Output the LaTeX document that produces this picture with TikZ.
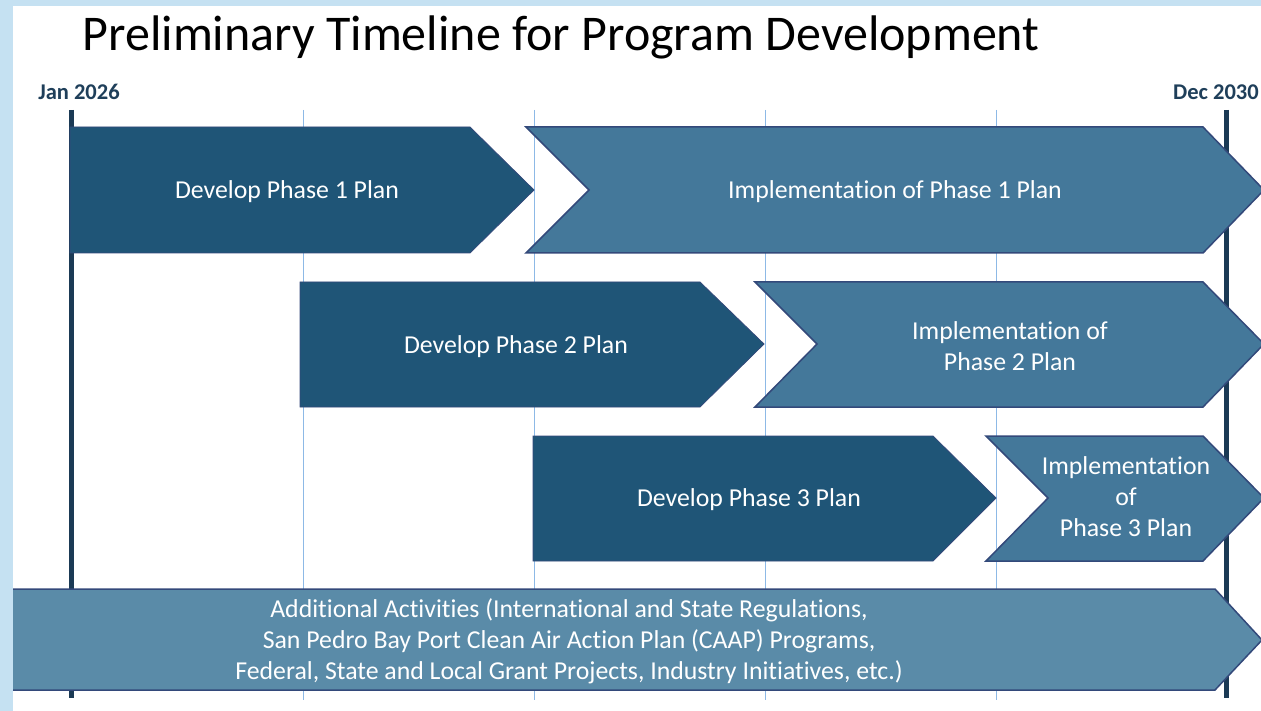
\documentclass[tikz,border=0pt]{standalone}
\usepackage{fontspec}
\setmainfont[Ligatures=NoCommon]{Carlito}
\definecolor{bgblue}{HTML}{C5E1F2}
\definecolor{devcol}{HTML}{1F5577}
\definecolor{impcol}{HTML}{44789A}
\definecolor{addcol}{HTML}{5A8BA8}
\definecolor{edgecol}{HTML}{33497A}
\definecolor{navy}{HTML}{1B3A55}
\definecolor{gridcol}{HTML}{8DB9E6}
\definecolor{lblcol}{HTML}{1F3F5A}
\tikzset{
  devshape/.style={fill=devcol, draw=edgecol, line width=0.8pt, line join=miter},
  impshape/.style={fill=impcol, draw=edgecol, line width=1.5pt, line join=miter},
  addshape/.style={fill=addcol, draw=edgecol, line width=1.5pt, line join=miter},
  boxtext/.style={text=white, font=\fontsize{25.8}{31}\selectfont, align=center, inner sep=0pt},
  datelbl/.style={text=lblcol, font=\fontsize{22.5}{26}\selectfont\bfseries, inner sep=0pt},
  gridline/.style={draw=gridcol, line width=1pt},
  axisline/.style={draw=navy, line width=5pt}
}
\begin{document}
\begin{tikzpicture}[x=1pt,y=-1pt]
\useasboundingbox (0,0) rectangle (1261,711);
\fill[bgblue] (0,0) rectangle (1261,711);
\fill[white] (13,6) rectangle (1261,711);

% grid lines
\foreach \gx in {303,534,765,996} {
  \draw[gridline] (\gx,110) -- (\gx,700);
}
\draw[axisline] (71,110) -- (71,698);
\draw[axisline] (1226,110) -- (1226,698);

% title and dates
\node[font=\fontsize{50}{54}\selectfont, inner sep=0pt, anchor=base] (title) at (561,51) {Preliminary Timeline for Program Development};
\node[datelbl] (jan) at (79,92) {Jan 2026};
\node[datelbl] (dec) at (1216,92) {Dec 2030};

% row 1
\draw[devshape] (70,127) -- (470,127) -- (534,190) -- (470,253) -- (70,253) -- cycle;
\draw[impshape] (526,127) -- (1203,127) -- (1264,190) -- (1203,253) -- (526,253) -- (589,190) -- cycle;
\node[boxtext] (d1) at (287,192) {Develop Phase 1 Plan};
\node[boxtext] (i1) at (895,192) {Implementation of Phase 1 Plan};

% row 2
\draw[devshape] (300,282) -- (700,282) -- (764,344) -- (700,407) -- (300,407) -- cycle;
\draw[impshape] (755,282) -- (1203,282) -- (1264,344) -- (1203,407) -- (755,407) -- (817,344) -- cycle;
\node[boxtext] (d2) at (516,347) {Develop Phase 2 Plan};
\node[boxtext] (i2) at (1010,346) {Implementation of\\Phase 2 Plan};

% row 3
\draw[devshape] (533,436) -- (933,436) -- (996,498) -- (933,561) -- (533,561) -- cycle;
\draw[impshape] (986,436) -- (1203,436) -- (1264,498) -- (1203,561) -- (986,561) -- (1048,498) -- cycle;
\node[boxtext] (d3) at (749,500) {Develop Phase 3 Plan};
\node[boxtext] (i3) at (1126,497) {Implementation\\of\\Phase 3 Plan};

% row 4
\draw[addshape] (13,589) -- (1215,589) -- (1262,640) -- (1215,690) -- (13,690);
\node[boxtext] (add) at (569,641) {Additional Activities (International and State Regulations,\\San Pedro Bay Port Clean Air Action Plan (CAAP) Programs,\\Federal, State and Local Grant Projects, Industry Initiatives, etc.)};
\end{tikzpicture}
\end{document}
